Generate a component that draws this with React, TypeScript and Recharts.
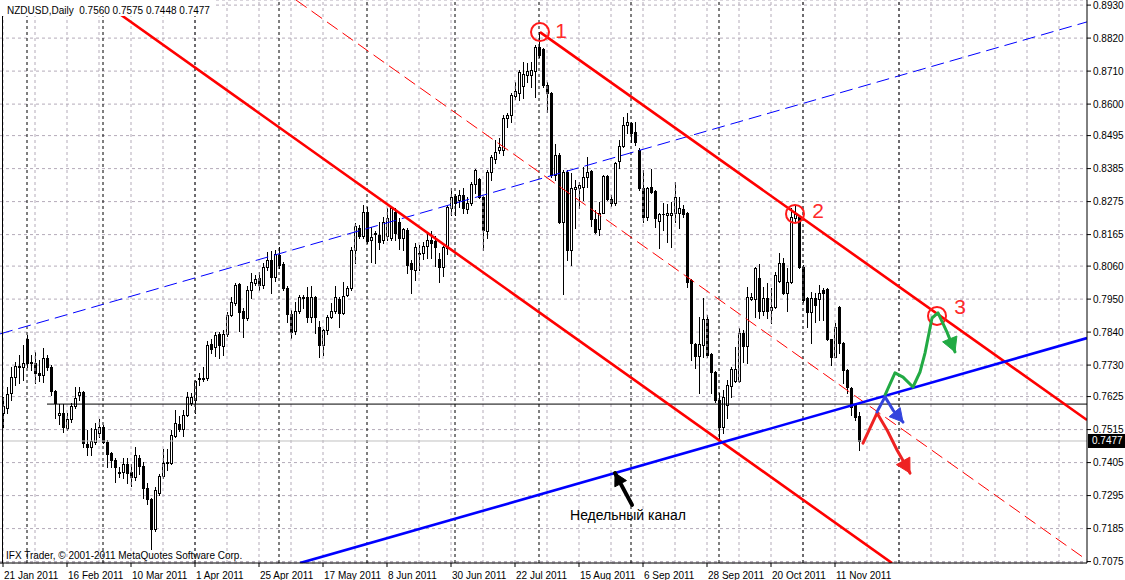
import React from 'react';
import { ComposedChart, Bar, XAxis, YAxis, CartesianGrid, ReferenceLine, Scatter } from 'recharts';

const FONT = "'Liberation Sans', Arial, sans-serif";

const dateLabels = ['21 Jan 2011', '16 Feb 2011', '10 Mar 2011', '1 Apr 2011', '25 Apr 2011', '17 May 2011', '8 Jun 2011', '30 Jun 2011', '22 Jul 2011', '15 Aug 2011', '6 Sep 2011', '28 Sep 2011', '20 Oct 2011', '11 Nov 2011'];
const dateTickBars = [0, 16, 32, 48, 64, 80, 96, 112, 128, 144, 160, 176, 192, 208];
const priceTicks = [0.7075, 0.7185, 0.7295, 0.7405, 0.7515, 0.7625, 0.7730, 0.7840, 0.7950, 0.8060, 0.8165, 0.8275, 0.8385, 0.8495, 0.8600, 0.8710, 0.8820, 0.8930];

const opens = [
  0.7570, 0.7587, 0.7637, 0.7690, 0.7724, 0.7724, 0.7817, 0.7740, 0.7737, 0.7704,
  0.7697, 0.7754, 0.7724, 0.7644, 0.7564, 0.7570, 0.7520, 0.7550, 0.7594, 0.7630,
  0.7640, 0.7467, 0.7457, 0.7474, 0.7504, 0.7524, 0.7474, 0.7437, 0.7414, 0.7374,
  0.7374, 0.7400, 0.7374, 0.7357, 0.7420, 0.7394, 0.7320, 0.7284, 0.7184, 0.7304,
  0.7360, 0.7404, 0.7404, 0.7494, 0.7534, 0.7517, 0.7564, 0.7604, 0.7614, 0.7684,
  0.7687, 0.7687, 0.7800, 0.7790, 0.7834, 0.7794, 0.7834, 0.7897, 0.7937, 0.8000,
  0.7910, 0.7887, 0.7980, 0.8004, 0.8020, 0.7997, 0.8057, 0.8080, 0.8024, 0.8097,
  0.8067, 0.7987, 0.7900, 0.7844, 0.7910, 0.7957, 0.7957, 0.7890, 0.7957, 0.7857,
  0.7797, 0.7847, 0.7890, 0.7910, 0.7950, 0.7904, 0.7964, 0.7987, 0.8114, 0.8187,
  0.8160, 0.8240, 0.8147, 0.8170, 0.8164, 0.8147, 0.8160, 0.8154, 0.8240, 0.8207,
  0.8154, 0.8180, 0.8070, 0.8047, 0.8104, 0.8104, 0.8127, 0.8147, 0.8144, 0.8084,
  0.8057, 0.8120, 0.8254, 0.8294, 0.8280, 0.8297, 0.8250, 0.8270, 0.8334, 0.8350,
  0.8290, 0.8177, 0.8374, 0.8417, 0.8447, 0.8447, 0.8554, 0.8564, 0.8627, 0.8637,
  0.8660, 0.8697, 0.8697, 0.8710, 0.8791, 0.8783, 0.8664, 0.8636, 0.8364, 0.8430,
  0.8208, 0.8375, 0.8114, 0.8317, 0.8320, 0.8324, 0.8357, 0.8377, 0.8217, 0.8184,
  0.8237, 0.8360, 0.8284, 0.8270, 0.8410, 0.8460, 0.8530, 0.8537, 0.8507, 0.8447,
  0.8320, 0.8224, 0.8324, 0.8310, 0.8210, 0.8234, 0.8230, 0.8230, 0.8237, 0.8237,
  0.8250, 0.8237, 0.8014, 0.7800, 0.7760, 0.7797, 0.7884, 0.7767, 0.7707, 0.7614,
  0.7524, 0.7597, 0.7660, 0.7677, 0.7677, 0.7837, 0.7794, 0.7950, 0.7950, 0.8020,
  0.7910, 0.7954, 0.7914, 0.7924, 0.8010, 0.8070, 0.7970, 0.8007, 0.8220, 0.8224,
  0.8057, 0.7954, 0.7907, 0.7954, 0.7950, 0.7980, 0.7984, 0.7817, 0.7757, 0.7924,
  0.7804, 0.7714, 0.7654, 0.7597, 0.7560,
];
const highs = [
  0.7624, 0.7657, 0.7724, 0.7740, 0.7764, 0.7797, 0.7830, 0.7764, 0.7774, 0.7747,
  0.7787, 0.7764, 0.7730, 0.7646, 0.7600, 0.7600, 0.7570, 0.7604, 0.7657, 0.7657,
  0.7644, 0.7514, 0.7520, 0.7537, 0.7550, 0.7530, 0.7480, 0.7440, 0.7420, 0.7390,
  0.7420, 0.7420, 0.7400, 0.7457, 0.7430, 0.7407, 0.7337, 0.7287, 0.7324, 0.7367,
  0.7450, 0.7450, 0.7514, 0.7580, 0.7560, 0.7580, 0.7640, 0.7637, 0.7680, 0.7704,
  0.7724, 0.7810, 0.7817, 0.7840, 0.7840, 0.7847, 0.7907, 0.7957, 0.8004, 0.8004,
  0.7920, 0.7994, 0.8037, 0.8030, 0.8040, 0.8070, 0.8107, 0.8110, 0.8114, 0.8124,
  0.8074, 0.7994, 0.7914, 0.7940, 0.7964, 0.7964, 0.7990, 0.7994, 0.7960, 0.7877,
  0.7850, 0.7897, 0.7937, 0.7994, 0.7957, 0.8007, 0.7994, 0.8124, 0.8204, 0.8197,
  0.8264, 0.8257, 0.8190, 0.8177, 0.8207, 0.8224, 0.8254, 0.8257, 0.8254, 0.8220,
  0.8187, 0.8187, 0.8080, 0.8137, 0.8130, 0.8140, 0.8170, 0.8177, 0.8160, 0.8104,
  0.8127, 0.8264, 0.8320, 0.8300, 0.8314, 0.8320, 0.8290, 0.8340, 0.8384, 0.8354,
  0.8294, 0.8380, 0.8430, 0.8480, 0.8487, 0.8564, 0.8570, 0.8637, 0.8674, 0.8714,
  0.8740, 0.8737, 0.8740, 0.8797, 0.8841, 0.8786, 0.8675, 0.8640, 0.8467, 0.8436,
  0.8380, 0.8380, 0.8369, 0.8347, 0.8341, 0.8390, 0.8424, 0.8380, 0.8247, 0.8274,
  0.8364, 0.8364, 0.8297, 0.8407, 0.8480, 0.8557, 0.8570, 0.8540, 0.8540, 0.8454,
  0.8380, 0.8324, 0.8384, 0.8314, 0.8237, 0.8270, 0.8267, 0.8274, 0.8340, 0.8290,
  0.8264, 0.8240, 0.8017, 0.7804, 0.7890, 0.7954, 0.7897, 0.7770, 0.7710, 0.7637,
  0.7647, 0.7680, 0.7724, 0.7790, 0.7854, 0.7847, 0.7990, 0.7970, 0.8057, 0.8067,
  0.7990, 0.8004, 0.7987, 0.8040, 0.8104, 0.8087, 0.8054, 0.8254, 0.8264, 0.8230,
  0.8064, 0.7957, 0.7974, 0.7970, 0.7997, 0.7987, 0.7987, 0.7817, 0.7870, 0.7927,
  0.7807, 0.7717, 0.7657, 0.7604, 0.7575,
];
const lows = [
  0.7524, 0.7570, 0.7614, 0.7664, 0.7670, 0.7680, 0.7724, 0.7714, 0.7670, 0.7677,
  0.7674, 0.7714, 0.7630, 0.7554, 0.7534, 0.7507, 0.7514, 0.7540, 0.7587, 0.7614,
  0.7457, 0.7430, 0.7430, 0.7467, 0.7490, 0.7470, 0.7390, 0.7390, 0.7340, 0.7357,
  0.7354, 0.7337, 0.7327, 0.7347, 0.7367, 0.7287, 0.7267, 0.7117, 0.7177, 0.7297,
  0.7354, 0.7380, 0.7400, 0.7490, 0.7510, 0.7494, 0.7560, 0.7597, 0.7570, 0.7664,
  0.7677, 0.7680, 0.7770, 0.7760, 0.7754, 0.7764, 0.7827, 0.7894, 0.7930, 0.7844,
  0.7824, 0.7880, 0.7954, 0.7997, 0.7980, 0.7987, 0.8047, 0.7970, 0.8010, 0.8054,
  0.7980, 0.7874, 0.7820, 0.7834, 0.7904, 0.7920, 0.7874, 0.7874, 0.7837, 0.7757,
  0.7764, 0.7834, 0.7887, 0.7904, 0.7857, 0.7900, 0.7960, 0.7980, 0.8070, 0.8154,
  0.8154, 0.8137, 0.8074, 0.8070, 0.8117, 0.8137, 0.8147, 0.8147, 0.8147, 0.8117,
  0.8114, 0.8037, 0.7970, 0.8014, 0.8047, 0.8084, 0.8087, 0.8087, 0.8060, 0.8007,
  0.8027, 0.8100, 0.8230, 0.8230, 0.8257, 0.8237, 0.8237, 0.8264, 0.8304, 0.8287,
  0.8114, 0.8154, 0.8347, 0.8404, 0.8437, 0.8430, 0.8524, 0.8540, 0.8617, 0.8614,
  0.8620, 0.8674, 0.8657, 0.8624, 0.8758, 0.8658, 0.8575, 0.8358, 0.8347, 0.8203,
  0.7967, 0.8080, 0.8064, 0.8187, 0.8254, 0.8280, 0.8324, 0.8194, 0.8170, 0.8164,
  0.8237, 0.8280, 0.8260, 0.8264, 0.8387, 0.8457, 0.8504, 0.8474, 0.8464, 0.8314,
  0.8207, 0.8214, 0.8304, 0.8190, 0.8120, 0.8180, 0.8140, 0.8124, 0.8207, 0.8187,
  0.8224, 0.7990, 0.7747, 0.7720, 0.7637, 0.7757, 0.7757, 0.7637, 0.7607, 0.7487,
  0.7504, 0.7554, 0.7624, 0.7674, 0.7674, 0.7740, 0.7737, 0.7947, 0.7890, 0.7887,
  0.7897, 0.7887, 0.7870, 0.7920, 0.8007, 0.7967, 0.7910, 0.8004, 0.8207, 0.8054,
  0.7940, 0.7857, 0.7804, 0.7874, 0.7880, 0.7880, 0.7814, 0.7730, 0.7757, 0.7770,
  0.7670, 0.7637, 0.7564, 0.7547, 0.7448,
];
const closes = [
  0.7594, 0.7634, 0.7690, 0.7727, 0.7727, 0.7737, 0.7737, 0.7737, 0.7704, 0.7697,
  0.7754, 0.7724, 0.7644, 0.7604, 0.7570, 0.7524, 0.7550, 0.7594, 0.7620, 0.7640,
  0.7470, 0.7457, 0.7477, 0.7517, 0.7524, 0.7474, 0.7434, 0.7414, 0.7390, 0.7370,
  0.7400, 0.7370, 0.7357, 0.7430, 0.7394, 0.7320, 0.7284, 0.7184, 0.7314, 0.7360,
  0.7404, 0.7407, 0.7497, 0.7537, 0.7517, 0.7564, 0.7624, 0.7624, 0.7677, 0.7687,
  0.7684, 0.7797, 0.7784, 0.7830, 0.7797, 0.7834, 0.7897, 0.7940, 0.7997, 0.7907,
  0.7887, 0.7980, 0.8007, 0.8017, 0.7997, 0.8057, 0.8080, 0.8024, 0.8100, 0.8064,
  0.7987, 0.7900, 0.7840, 0.7910, 0.7957, 0.7954, 0.7890, 0.7957, 0.7890, 0.7797,
  0.7847, 0.7890, 0.7910, 0.7957, 0.7904, 0.7960, 0.7987, 0.8114, 0.8194, 0.8160,
  0.8240, 0.8144, 0.8157, 0.8167, 0.8140, 0.8207, 0.8220, 0.8254, 0.8170, 0.8154,
  0.8184, 0.8064, 0.8050, 0.8124, 0.8100, 0.8127, 0.8147, 0.8137, 0.8124, 0.8057,
  0.8124, 0.8257, 0.8290, 0.8270, 0.8297, 0.8254, 0.8270, 0.8334, 0.8380, 0.8290,
  0.8180, 0.8374, 0.8424, 0.8440, 0.8457, 0.8554, 0.8564, 0.8630, 0.8644, 0.8707,
  0.8700, 0.8710, 0.8714, 0.8790, 0.8764, 0.8664, 0.8636, 0.8364, 0.8430, 0.8208,
  0.8375, 0.8114, 0.8319, 0.8324, 0.8330, 0.8357, 0.8374, 0.8217, 0.8174, 0.8237,
  0.8360, 0.8284, 0.8270, 0.8404, 0.8460, 0.8530, 0.8540, 0.8504, 0.8474, 0.8320,
  0.8224, 0.8320, 0.8307, 0.8220, 0.8234, 0.8232, 0.8237, 0.8237, 0.8290, 0.8254,
  0.8234, 0.8007, 0.7804, 0.7760, 0.7800, 0.7884, 0.7764, 0.7707, 0.7614, 0.7524,
  0.7624, 0.7664, 0.7717, 0.7717, 0.7837, 0.7794, 0.7957, 0.7957, 0.8054, 0.7910,
  0.7954, 0.7910, 0.7924, 0.8030, 0.8070, 0.7970, 0.8007, 0.8224, 0.8234, 0.8057,
  0.7947, 0.7907, 0.7954, 0.7930, 0.7970, 0.7970, 0.7817, 0.7757, 0.7857, 0.7804,
  0.7714, 0.7657, 0.7590, 0.7557, 0.7477,
];

const monthStartBars = [6, 25, 48, 69, 91, 113, 134, 157, 179, 200, 224];
const gridBars = [0, 8, 16, 24, 32, 40, 48, 56, 64, 72, 80, 88, 96, 104, 112, 120, 128, 136, 144, 152, 160, 168, 176, 184, 192, 200, 208, 216, 224, 232, 240, 248, 256, 264];

const blueDashedLine = [{ i: -0.75, p: 0.7834 }, { i: 271, p: 0.8874 }];
const weeklyChannelLine = [{ i: 74.25, p: 0.7070 }, { i: 271, p: 0.7820 }];
const redUpperLine = [{ i: 134.25, p: 0.8840 }, { i: 271, p: 0.7547 }];
const redLowerLine = [{ i: 24.25, p: 0.8947 }, { i: 222.25, p: 0.7070 }];
const redMidLine = [{ i: 73.25, p: 0.8947 }, { i: 271, p: 0.7080 }];
const levelLine = [{ i: 11, p: 0.7600 }, { i: 271, p: 0.7600 }];

const pivots = [{ i: 134.25, p: 0.8840 }, { i: 198, p: 0.8234 }, { i: 233.5, p: 0.7894 }];
const pivotLabels = [{ i: 139.5, p: 0.8844, n: '1' }, { i: 203.75, p: 0.8247, n: '2' }, { i: 239.25, p: 0.7927, n: '3' }];

const greenPath = [
  { i: 220.5, p: 0.7630 }, { i: 223, p: 0.7704 }, { i: 225, p: 0.7690 }, { i: 227.5, p: 0.7657 },
  { i: 229.25, p: 0.7707 }, { i: 230.5, p: 0.7770 }, { i: 232.25, p: 0.7887 }, { i: 233.75, p: 0.7904 },
  { i: 236, p: 0.7840 }, { i: 238, p: 0.7774 },
];
const bluePath = [{ i: 218.5, p: 0.7574 }, { i: 220.5, p: 0.7624 }, { i: 222.5, p: 0.7580 }, { i: 225, p: 0.7540 }];
const redPath = [{ i: 215, p: 0.7470 }, { i: 218.5, p: 0.7570 }, { i: 221, p: 0.7514 }, { i: 223.5, p: 0.7447 }, { i: 226.75, p: 0.7370 }];
const blackPath = [{ i: 157.25, p: 0.7264 }, { i: 153, p: 0.7370 }];
const caption = [{ i: 156.25, p: 0.7230, n: 'Недельный канал' }];

const symbolName = 'NZDUSD,Daily';
const copyright = 'IFX Trader, © 2001-2011 MetaQuotes Software Corp.';

const GRID = '#b4abb9';

const candles = opens.map((o, k) => ({ i: k, o, h: highs[k], l: lows[k], c: closes[k], range: [lows[k], highs[k]] }));
const last = candles[candles.length - 1];

const Candle = (props: any) => {
  const { x, y, width, height, payload } = props;
  if (!payload || x == null || y == null) return <g />;
  const { o, h, l, c } = payload;
  const cx = Math.round(x + width / 2);
  const yTop = Math.min(y, y + height);
  const yBot = Math.max(y, y + height);
  const span = h - l || 1e-9;
  const toY = (pv: number) => yTop + ((h - pv) / span) * (yBot - yTop);
  const yo = toY(o);
  const yc = toY(c);
  const top = Math.round(Math.min(yo, yc));
  const bot = Math.round(Math.max(yo, yc));
  const bull = c >= o;
  return (
    <g>
      <line x1={cx + 0.5} x2={cx + 0.5} y1={Math.round(yTop)} y2={Math.round(yBot) + 1} stroke="#000" strokeWidth={1} />
      {bot - top < 1 ? (
        <line x1={cx - 1} x2={cx + 2} y1={top + 0.5} y2={top + 0.5} stroke="#000" strokeWidth={1} />
      ) : (
        <rect x={cx - 0.5} y={top + 0.5} width={2} height={bot - top} fill={bull ? '#fff' : '#000'} stroke="#000" strokeWidth={1} />
      )}
    </g>
  );
};

const DateTick = (props: any) => {
  const { x, y, payload } = props;
  const k = dateTickBars.indexOf(payload.value);
  return (
    <text x={x + 1} y={y + 10} textAnchor="start" fontSize={10} fontFamily={FONT} fill="#000">
      {k >= 0 ? dateLabels[k] : ''}
    </text>
  );
};

const PriceTick = (props: any) => {
  const { x, y, payload } = props;
  return (
    <text x={x} y={y} dy="0.35em" textAnchor="start" fontSize={10} fontFamily={FONT} fill="#000">
      {Number(payload.value).toFixed(4)}
    </text>
  );
};

const PriceTag = (props: any) => {
  const vb = props.viewBox || {};
  const x = (vb.x || 0) + (vb.width || 0) + 1;
  const y = vb.y || 0;
  return (
    <g>
      <rect x={x} y={y - 7} width={37} height={14} fill="#000" />
      <text x={x + 4} y={y} dy="0.35em" fontSize={10} fontFamily={FONT} fill="#fff">{last.c.toFixed(4)}</text>
    </g>
  );
};

const makeArrow = (color: string, w: number, head: number) => (props: any) => {
  const pts = props.points || [];
  if (pts.length < 2) return <g />;
  const a = pts[pts.length - 2];
  const b = pts[pts.length - 1];
  const dx = b.x - a.x;
  const dy = b.y - a.y;
  const len = Math.hypot(dx, dy) || 1;
  const ux = dx / len;
  const uy = dy / len;
  const bx = b.x - ux * head;
  const by = b.y - uy * head;
  const px = -uy * head * 0.55;
  const py = ux * head * 0.55;
  const d = pts.map((pt: any, k: number) => `${k ? 'L' : 'M'}${pt.x},${pt.y}`).join(' ');
  return (
    <g>
      <path d={d} fill="none" stroke={color} strokeWidth={w} strokeLinejoin="round" strokeLinecap="round" />
      <polygon points={`${b.x},${b.y} ${bx + px},${by + py} ${bx - px},${by - py}`} fill={color} stroke={color} strokeWidth={1} strokeLinejoin="round" />
    </g>
  );
};

const Nothing = () => <g />;

const CircleMark = (props: any) => (
  <circle cx={props.cx} cy={props.cy} r={9} fill="none" stroke="#ff1a1a" strokeWidth={2} />
);

const NumberMark = (props: any) => {
  const n = props.payload?.n ?? props.n;
  return (
    <text x={props.cx} y={props.cy} dy="0.36em" textAnchor="middle" fontSize={21} fontFamily={FONT} fill="#ff2a2a">{n}</text>
  );
};

const CaptionMark = (props: any) => {
  const n = props.payload?.n ?? props.n;
  return (
    <text x={props.cx} y={props.cy} dy="0.36em" textAnchor="middle" fontSize={14} fontFamily={FONT} fill="#000">{n}</text>
  );
};

export default function App() {
  return (
    <div style={{ position: 'absolute', left: 0, top: 0, width: 1125, height: 580, background: '#fff', overflow: 'hidden', fontFamily: FONT }}>
      <ComposedChart width={1125} height={580} data={candles} margin={{ top: 0, right: 0, bottom: 0, left: 0 }}>
        <CartesianGrid vertical={false} stroke={GRID} strokeDasharray="3 3" />
        <XAxis
          type="number"
          dataKey="i"
          domain={[-0.75, 271]}
          ticks={dateTickBars}
          interval={0}
          height={17}
          tick={<DateTick />}
          tickSize={4}
          tickMargin={2}
          axisLine={{ stroke: '#000' }}
          tickLine={{ stroke: '#000' }}
          allowDataOverflow
        />
        <YAxis
          orientation="right"
          type="number"
          dataKey="p"
          domain={[0.70703, 0.8947]}
          ticks={priceTicks}
          interval={0}
          width={38}
          tick={<PriceTick />}
          tickSize={4}
          tickMargin={2}
          axisLine={{ stroke: '#000' }}
          tickLine={{ stroke: '#000' }}
          allowDataOverflow
        />
        {gridBars.map((g) => (
          <ReferenceLine key={'g' + g} x={g} stroke={GRID} strokeDasharray="3 3" strokeWidth={1} />
        ))}
        {monthStartBars.map((m) => (
          <ReferenceLine key={'m' + m} x={m} stroke="#000" strokeDasharray="3 3" strokeWidth={1} />
        ))}
        <ReferenceLine y={last.c} stroke="#c0c0c0" strokeWidth={1} label={<PriceTag />} />
        <Bar dataKey="range" barSize={3} shape={<Candle />} isAnimationActive={false} />
        <ReferenceLine segment={levelLine.map((q) => ({ x: q.i, y: q.p }))} stroke="#000" strokeWidth={1} ifOverflow="hidden" />
        <ReferenceLine segment={blueDashedLine.map((q) => ({ x: q.i, y: q.p }))} stroke="#0000ff" strokeWidth={1} strokeDasharray="13 6" ifOverflow="hidden" />
        <ReferenceLine segment={redMidLine.map((q) => ({ x: q.i, y: q.p }))} stroke="#ff0000" strokeWidth={1} strokeDasharray="13 6" ifOverflow="hidden" />
        <ReferenceLine segment={redLowerLine.map((q) => ({ x: q.i, y: q.p }))} stroke="#ff0000" strokeWidth={2.6} ifOverflow="hidden" />
        <ReferenceLine segment={redUpperLine.map((q) => ({ x: q.i, y: q.p }))} stroke="#ff0000" strokeWidth={2.6} ifOverflow="hidden" />
        <ReferenceLine segment={weeklyChannelLine.map((q) => ({ x: q.i, y: q.p }))} stroke="#0000ff" strokeWidth={2.6} ifOverflow="hidden" />
        <Scatter data={pivots} shape={<CircleMark />} isAnimationActive={false} />
        <Scatter data={pivotLabels} shape={<NumberMark />} isAnimationActive={false} />
        <Scatter data={greenPath} shape={<Nothing />} line={makeArrow('#22aa44', 3, 14)} isAnimationActive={false} />
        <Scatter data={redPath} shape={<Nothing />} line={makeArrow('#ee2222', 3, 14)} isAnimationActive={false} />
        <Scatter data={bluePath} shape={<Nothing />} line={makeArrow('#3344dd', 3, 13)} isAnimationActive={false} />
        <Scatter data={blackPath} shape={<Nothing />} line={makeArrow('#000000', 4, 12)} isAnimationActive={false} />
        <Scatter data={caption} shape={<CaptionMark />} isAnimationActive={false} />
      </ComposedChart>
      <div style={{ position: 'absolute', left: 2, top: 0, width: 1, height: 563, background: '#000' }} />
      <div style={{ position: 'absolute', left: 0, top: 0, height: 16, padding: '0 4px 0 7px', background: '#fff', fontSize: 10, lineHeight: '21px', color: '#000', whiteSpace: 'pre', overflow: 'hidden' }}>
        {`${symbolName}  ${last.o.toFixed(4)} ${last.h.toFixed(4)} ${last.l.toFixed(4)} ${last.c.toFixed(4)}`}
      </div>
      <div style={{ position: 'absolute', left: 6, top: 549, fontSize: 10, lineHeight: '14px', color: '#000', whiteSpace: 'pre' }}>
        {copyright}
      </div>
    </div>
  );
}
